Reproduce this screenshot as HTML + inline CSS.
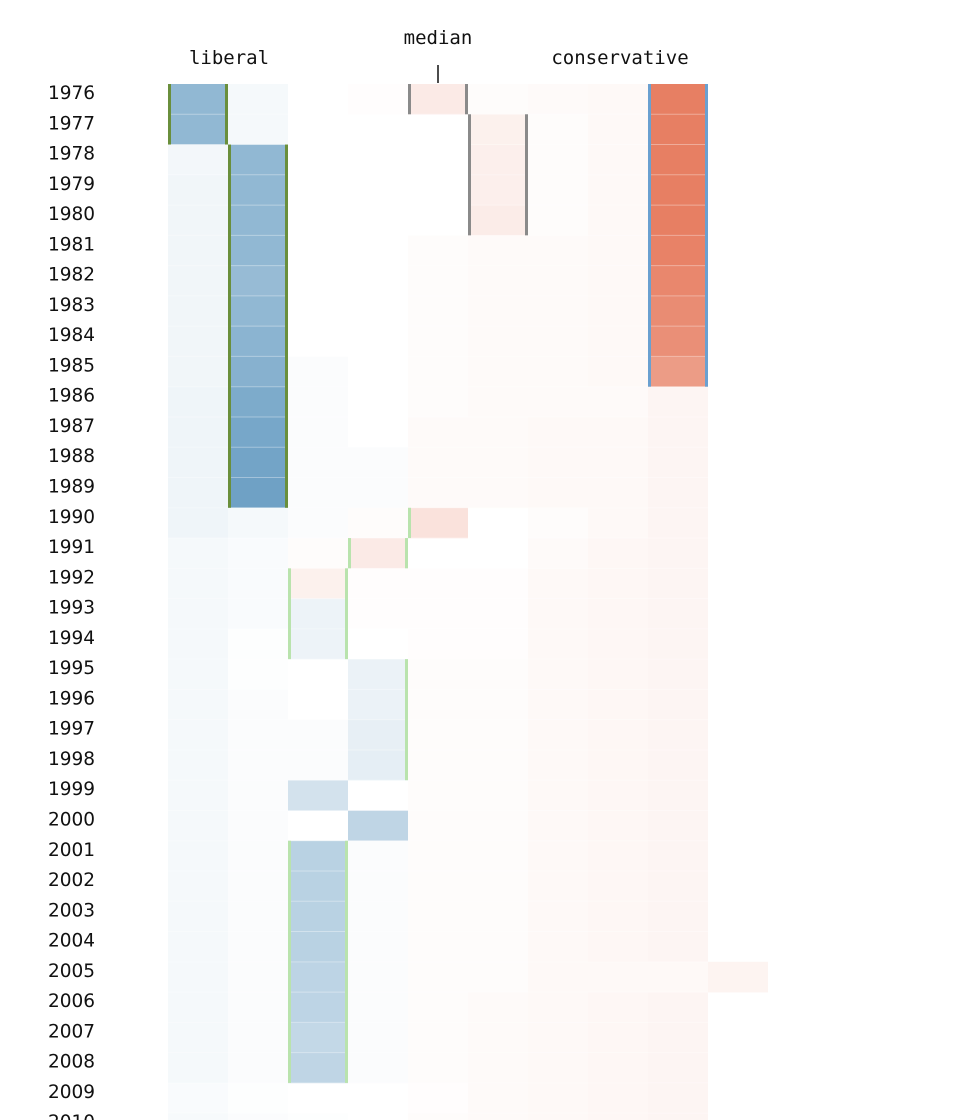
<!DOCTYPE html>
<html><head><meta charset="utf-8">
<style>
html,body{margin:0;padding:0;background:#fff;width:960px;height:1120px;overflow:hidden}
svg{display:block}
.yl{font-family:"DejaVu Sans","Liberation Sans",sans-serif;font-size:18.5px;fill:#111}
.hd{font-family:"DejaVu Sans Mono","Liberation Mono",monospace;font-size:19px;fill:#111}
</style></head>
<body>
<svg id="chart" width="960" height="1120">
<text class="hd" x="229" y="64" text-anchor="middle">liberal</text>
<text class="hd" x="438" y="44" text-anchor="middle">median</text>
<line x1="438" y1="65" x2="438" y2="83" stroke="#111" stroke-width="1.5"/>
<text class="hd" x="620" y="64" text-anchor="middle">conservative</text>
<g id="cells"></g><g id="borders"></g><g id="years"></g>
</svg>
<script>
const years = [1976,1977,1978,1979,1980,1981,1982,1983,1984,1985,1986,1987,1988,1989,1990,1991,1992,1993,1994,1995,1996,1997,1998,1999,2000,2001,2002,2003,2004,2005,2006,2007,2008,2009,2010];
const scores = [
[-.55,-.05,0,.01,.13,.02,.03,.04,.8,0],
[-.55,-.05,0,0,0,.09,.02,.04,.8,0],
[-.06,-.55,0,0,0,.1,.02,.04,.8,0],
[-.07,-.55,0,0,0,.1,.02,.04,.8,0],
[-.07,-.55,0,0,0,.12,.02,.04,.8,0],
[-.07,-.55,0,0,.02,.03,.03,.04,.78,0],
[-.07,-.52,0,0,.02,.03,.03,.04,.75,0],
[-.07,-.55,0,0,.02,.03,.03,.04,.72,0],
[-.07,-.58,0,0,.02,.03,.03,.04,.7,0],
[-.07,-.6,-.02,0,.02,.03,.03,.04,.62,0],
[-.08,-.65,-.02,0,.02,.03,.03,.03,.06,0],
[-.08,-.68,-.02,0,.03,.03,.04,.04,.06,0],
[-.08,-.7,-.02,-.02,.03,.03,.04,.04,.06,0],
[-.08,-.72,-.02,-.02,.03,.03,.04,.04,.06,0],
[-.08,-.05,-.02,.02,.18,0,.02,.04,.06,0],
[-.05,-.03,.02,.13,0,0,.03,.05,.06,0],
[-.05,-.03,.09,.01,.01,.01,.04,.05,.06,0],
[-.05,-.03,-.09,.01,.01,.01,.04,.05,.06,0],
[-.05,-.01,-.09,0,.01,.01,.04,.05,.06,0],
[-.05,-.01,0,-.1,.02,.02,.04,.05,.06,0],
[-.05,-.02,0,-.1,.02,.02,.04,.05,.06,0],
[-.05,-.02,-.02,-.12,.02,.02,.04,.05,.06,0],
[-.05,-.02,-.02,-.13,.02,.02,.04,.05,.06,0],
[-.05,-.02,-.22,0,.02,.02,.04,.05,.06,0],
[-.05,-.02,0,-.32,.02,.02,.04,.05,.06,0],
[-.05,-.02,-.35,-.02,.02,.02,.04,.05,.06,0],
[-.05,-.02,-.35,-.02,.02,.02,.04,.05,.06,0],
[-.05,-.02,-.35,-.02,.02,.02,.04,.05,.06,0],
[-.05,-.02,-.35,-.02,.02,.02,.04,.05,.06,0],
[-.05,-.02,-.33,-.02,.02,.02,.04,.04,.04,.07],
[-.05,-.02,-.33,-.02,.02,.03,.04,.05,.06,0],
[-.05,-.02,-.3,-.02,.02,.03,.04,.05,.06,0],
[-.05,-.02,-.32,-.02,.02,.03,.04,.05,.06,0],
[-.03,-.01,0,0,.01,.03,.04,.05,.06,0],
[-.04,-.02,-.01,0,.02,.03,.04,.05,.06,0]
];
// border segments: [col, firstYear, lastYear, side('L','R','B'), colorKey]
const borderSegs = [
[0,1976,1977,'B','dg'],[1,1978,1989,'B','dg'],
[4,1976,1976,'B','gr'],[5,1977,1980,'B','gr'],
[8,1976,1985,'B','bl'],
[4,1990,1990,'L','lg'],[3,1991,1991,'B','lg'],[2,1992,1994,'B','lg'],
[3,1995,1998,'R','lg'],[2,2001,2008,'B','lg']
];
const bcol={dg:'#6a8f3c',gr:'#8a8a8a',bl:'#6aa0d0',lg:'#b9e3ad'};
const X0=168,CW=60,Y0=84,RH=30.27;
const xs=c=>X0+c*CW, ys=i=>Y0+i*RH;
function color(v){
  const t=Math.min(1,Math.abs(v));
  const base=v<0?[55,125,175]:[225,95,60];
  return 'rgb('+base.map(b=>Math.round(255-t*(255-b))).join(',')+')';
}
const NS='http://www.w3.org/2000/svg';
const cg=document.getElementById('cells'),bg=document.getElementById('borders'),yg=document.getElementById('years');
years.forEach((yr,i)=>{
  const t=document.createElementNS(NS,'text');
  t.setAttribute('class','yl');t.setAttribute('x',48);t.setAttribute('y',ys(i)+15);
  t.textContent=yr;
  
  
  yg.appendChild(t);
  scores[i].forEach((v,c)=>{
    if(v===0)return;
    const r=document.createElementNS(NS,'rect');
    r.setAttribute('x',xs(c));r.setAttribute('y',ys(i));
    r.setAttribute('width',CW);r.setAttribute('height',RH+0.3);
    r.setAttribute('fill',color(v));
    
    
    cg.appendChild(r);
  });
  if(i>0){
    const l=document.createElementNS(NS,'line');
    l.setAttribute('x1',X0);l.setAttribute('x2',X0+9*CW);
    l.setAttribute('y1',ys(i));l.setAttribute('y2',ys(i));
    l.setAttribute('stroke','rgba(255,255,255,0.35)');
    
    
    cg.appendChild(l);
  }
});
borderSegs.forEach(s=>{
  const [c,a,b,side,k]=s;
  const i0=years.indexOf(a),i1=years.indexOf(b);
  const sides=side==='B'?['L','R']:[side];
  sides.forEach(sd=>{
    const r=document.createElementNS(NS,'rect');
    const x=sd==='L'?xs(c):xs(c)+CW-3;
    r.setAttribute('x',x);r.setAttribute('y',ys(i0));
    r.setAttribute('width',3);r.setAttribute('height',ys(i1)+RH-ys(i0));
    r.setAttribute('fill',bcol[k]);
    
    
    bg.appendChild(r);
  });
});
</script>
</body></html>
